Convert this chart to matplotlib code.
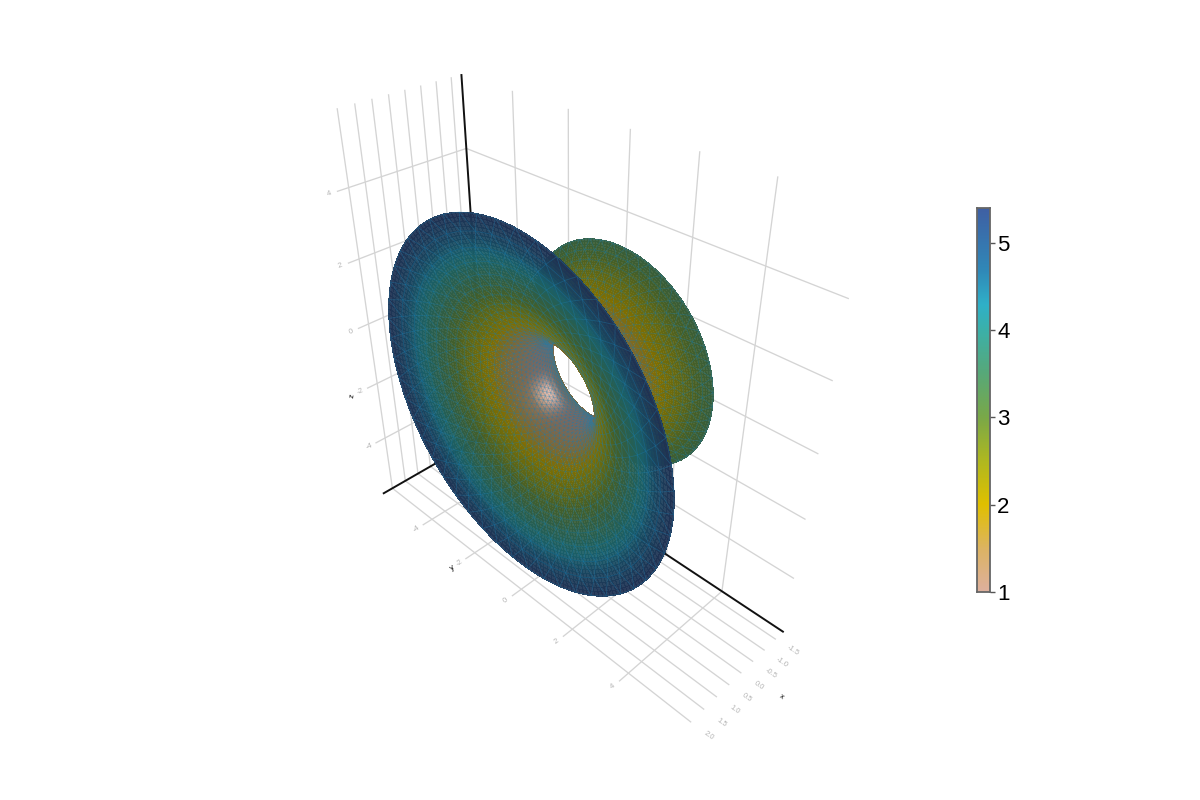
import numpy as np
import matplotlib
matplotlib.use("Agg")
import matplotlib.pyplot as plt
from matplotlib.colors import LinearSegmentedColormap
from mpl_toolkits.mplot3d import proj3d
from mpl_toolkits.mplot3d.art3d import Poly3DCollection, Line3DCollection

plt.rcParams['font.family'] = ['Liberation Sans', 'DejaVu Sans']

# profile of the surface (axial position, radius)
prof_x = [-1.60,-1.51,-1.42,-1.33,-1.24,-1.15,-1.06,-0.97,-0.88,-0.79,-0.70,-0.61,-0.52,-0.43,
          -0.34,-0.25,-0.16,-0.07,0.02,0.11,0.20,0.29,0.38,0.47,0.56,0.65,0.74,0.83,0.92,1.01,
          1.10,1.19,1.28,1.37,1.46,1.55,1.64,1.73,1.82,1.91,2.00]
prof_r = [3.20,2.95,2.72,2.50,2.29,2.10,1.93,1.78,1.65,1.53,1.43,1.34,1.27,1.21,
          1.16,1.12,1.10,1.08,1.08,1.09,1.11,1.14,1.18,1.23,1.30,1.38,1.47,1.58,1.70,1.84,
          2.00,2.18,2.38,2.60,2.85,3.12,3.42,3.76,4.12,4.53,4.98]

x_ticks = [-1.5,-1.0,-0.5,0.0,0.5,1.0,1.5,2.0]
y_ticks = [-4,-2,0,2,4]
z_ticks = [-4,-2,0,2,4]
cbar_ticks = [1,2,3,4,5]

cmap_pos = [0.0,0.11,0.227,0.34,0.4545,0.568,0.68,0.75,0.84,1.0]
cmap_col = ['#deb09e','#dcb464','#e0c000','#b0b820','#7aa848','#58a878','#3cb0a8','#2fb0c8','#3088b8','#3f60a4']
vmin, vmax = 1.0, 5.4

xmin, xmax = -1.8449, 2.3310
ymin, ymax = -6.0161, 6.0067
zmin, zmax = -6.0006, 6.0004

fig = plt.figure(figsize=(12,8), dpi=100)
ax = fig.add_axes([0.1290,0.0054,800/1200,1], projection='3d', computed_zorder=False)
ax.view_init(elev=34.7772, azim=45.2091, roll=0.2190)
ax.set_proj_type('persp', focal_length=np.exp(-1.5446))
ax.set_box_aspect((np.exp(-1.0482),1,np.exp(0.0069)), zoom=np.exp(-0.1678))
ax.set_xlim(xmin,xmax); ax.set_ylim(ymin,ymax); ax.set_zlim(zmin,zmax)
ax.set_axis_off()
M = ax.get_proj()

# camera position in data coordinates
eye = np.linalg.svd(M[[0,1,3]])[2][-1]
eye = eye[:3]/eye[3]

# grid
gc = '#d4d4d4'
lw = 0.95
for xt in x_ticks:
    ax.plot([xt,xt],[ymin,ymin],[zmin,zmax],color=gc,lw=lw,zorder=1)
    ax.plot([xt,xt],[ymin,ymax],[zmin,zmin],color=gc,lw=lw,zorder=1)
for yt in y_ticks:
    ax.plot([xmin,xmin],[yt,yt],[zmin,zmax],color=gc,lw=lw,zorder=1)
    ax.plot([xmin,xmax],[yt,yt],[zmin,zmin],color=gc,lw=lw,zorder=1)
for zt in z_ticks:
    ax.plot([xmin,xmax],[ymin,ymin],[zt,zt],color=gc,lw=lw,zorder=1)
    ax.plot([xmin,xmin],[ymin,ymax],[zt,zt],color=gc,lw=lw,zorder=1)
ax.plot([xmin,xmax],[ymin,ymin],[zmin,zmin],color='#111111',lw=1.4,zorder=2)
ax.plot([xmin,xmin],[ymin,ymax],[zmin,zmin],color='#111111',lw=1.4,zorder=2)
ax.plot([xmin,xmin],[ymin,ymin],[zmin,zmax],color='#111111',lw=1.4,zorder=2)

# tick labels
def label3d(x, y, z, s, rot):
    u, v, _ = proj3d.proj_transform(x, y, z, M)
    ax.text2D(u, v, s, transform=ax.transData, color='#b4b4b4', fontsize=5.5,
              rotation=rot, ha='center', va='center')

for xt in x_ticks:
    label3d(xt, ymax+0.55, zmin, f'{xt:.1f}', -35)
for yt in y_ticks:
    label3d(xmax+0.25, yt, zmin, str(yt), 35)
for zt in z_ticks:
    label3d(xmax+0.25, ymin, zt, str(zt), 20)
fig.text(781/1200,1-697/800,'x',fontsize=5.5,rotation=-35,ha='center',va='center')
fig.text(453/1200,1-568/800,'y',fontsize=5.5,rotation=35,ha='center',va='center')
fig.text(353/1200,1-396/800,'z',fontsize=5.5,rotation=80,ha='center',va='center')

# surface
cmap = LinearSegmentedColormap.from_list('cb',list(zip(cmap_pos,cmap_col)))
xs = np.array(prof_x)
rs = np.array(prof_r)
n_ang = 50
dth = 2*np.pi/n_ang
sub = 4

# fine cells only to get a smooth colour across the mesh cells
idx = np.arange(0,len(xs)-1+1e-9,1/sub)
xf = np.interp(idx,np.arange(len(xs)),xs)
rf = np.interp(idx,np.arange(len(xs)),rs)
thf = np.arange(n_ang*sub+1)*dth/sub
slope = np.gradient(rf,xf)

def facing(x, r, s, th):
    # cosine between the inner (funnel) side and the camera direction
    n = np.stack([s,-np.cos(th),-np.sin(th)],axis=-1)
    p = np.stack([x,r*np.cos(th),r*np.sin(th)],axis=-1)
    d = eye-p
    return (d*n).sum(axis=-1)/np.linalg.norm(d,axis=-1)/np.linalg.norm(n,axis=-1)

I,J = np.meshgrid(np.arange(len(xf)-1),np.arange(len(thf)-1),indexing='ij')
I = I.ravel(); J = J.ravel()
def vert(i,j):
    return np.stack([xf[i],rf[i]*np.cos(thf[j]),rf[i]*np.sin(thf[j])],axis=-1)
quads = np.stack([vert(I,J),vert(I+1,J),vert(I+1,J+1),vert(I,J+1)],axis=1)
xc = 0.5*(xf[I]+xf[I+1])
rc = 0.5*(rf[I]+rf[I+1])
sc = 0.5*(slope[I]+slope[I+1])
tc = 0.5*(thf[J]+thf[J+1])
side = facing(xc,rc,sc,tc)
val = np.clip(1+(rc-1.08)*1.128,vmin,vmax)

nn = np.stack([sc,-np.cos(tc),-np.sin(tc)],axis=-1)
nn /= np.linalg.norm(nn,axis=1,keepdims=True)
h = np.array([0.15,0.72,0.68])
spec = np.clip(nn@h,0,1)**14
k = np.interp(val,[1,3.5,5.4],[0.58,0.56,0.50])
base = cmap((val-vmin)/(vmax-vmin))[:,:3]
col = np.clip(base*(k+0.45*spec)[:,None]+0.03*spec[:,None],0,1)
rgba = np.c_[col,np.full(len(col),0.94)]

back = (side<0)&(xc<0)
front = side>0

# mesh lines: circles and the two slanted families
th0 = np.arange(n_ang)*dth
segs = []
for i in range(len(xs)):
    t1 = th0+i*dth/2
    t2 = t1+dth
    segs.append(np.stack([np.stack([np.full(n_ang,xs[i]),rs[i]*np.cos(t1),rs[i]*np.sin(t1)],axis=-1),
                          np.stack([np.full(n_ang,xs[i]),rs[i]*np.cos(t2),rs[i]*np.sin(t2)],axis=-1)],axis=1))
for i in range(len(xs)-1):
    t1 = th0+i*dth/2
    for t_a,t_b in [(t1,t1+dth/2),(t1+dth,t1+dth/2)]:
        segs.append(np.stack([np.stack([np.full(n_ang,xs[i]),rs[i]*np.cos(t_a),rs[i]*np.sin(t_a)],axis=-1),
                              np.stack([np.full(n_ang,xs[i+1]),rs[i+1]*np.cos(t_b),rs[i+1]*np.sin(t_b)],axis=-1)],axis=1))
segs = np.concatenate(segs)
mid = segs.mean(axis=1)
mx = mid[:,0]
mr = np.hypot(mid[:,1],mid[:,2])
mt = np.arctan2(mid[:,2],mid[:,1])
ms = np.interp(mx,xf,slope)
mside = facing(mx,mr,ms,mt)
# lines seen almost edge-on pile up into a blot, leave those out
seg_back = (mside<-0.08)&(mx<0)
seg_front = mside>0.08

line_col = (0.10,0.50,0.70,0.38)
ax.add_collection3d(Poly3DCollection(quads[back],facecolors=rgba[back],edgecolors='none',antialiaseds=False,zorder=3))
ax.add_collection3d(Line3DCollection(segs[seg_back],colors=[line_col],linewidths=0.55,zorder=4))
ax.add_collection3d(Poly3DCollection(quads[front],facecolors=rgba[front],edgecolors='none',antialiaseds=False,zorder=5))
ax.add_collection3d(Line3DCollection(segs[seg_front],colors=[line_col],linewidths=0.55,zorder=6))
ax.set_xlim(xmin,xmax); ax.set_ylim(ymin,ymax); ax.set_zlim(zmin,zmax)

# colorbar
cax = fig.add_axes([977/1200,1-592/800,12.5/1200,384/800])
grad = np.linspace(vmin,vmax,256)[:,None]
cax.imshow(grad,origin='lower',aspect='auto',extent=[0,1,vmin,vmax],cmap=cmap,vmin=vmin,vmax=vmax)
cax.set_xticks([])
cax.yaxis.tick_right()
cax.set_yticks(cbar_ticks)
cax.tick_params(axis='y',labelsize=16,length=3.6,width=1,color='#555555',pad=2)
for sp in cax.spines.values():
    sp.set_color('#666666')
    sp.set_linewidth(1.3)

fig.savefig('out.png',dpi=100)
